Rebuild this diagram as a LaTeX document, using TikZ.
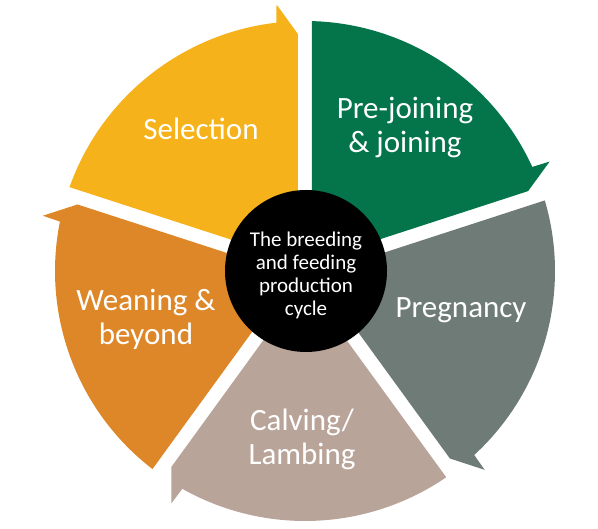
\documentclass[tikz,border=0pt]{standalone}
\usepackage{fontspec}
\setmainfont{Carlito}
\definecolor{segyellow}{RGB}{246,178,26}
\definecolor{seggreen}{RGB}{4,117,74}
\definecolor{seggray}{RGB}{111,123,119}
\definecolor{segtaupe}{RGB}{185,164,153}
\definecolor{segorange}{RGB}{221,135,41}
\begin{document}
\begin{tikzpicture}[x=1pt,y=1pt,
  lab/.style={text=white, font=\fontsize{31}{34.5}\selectfont, align=center, anchor=base, inner sep=0pt},
  hubtext/.style={text=white, font=\fontsize{21}{23}\selectfont, align=center, anchor=base, inner sep=0pt},
  hubcircle/.style={circle, fill=black, minimum size=162pt, inner sep=0pt}]
\useasboundingbox (0,0) rectangle (598,529);
\begin{scope}[shift={(305pt,258pt)}]
\foreach \s/\c in {162/segyellow,90/seggreen,18/seggray,-54/segtaupe,-126/segorange}{
  \fill[\c] ({\s-36}:11.9pt) -- ({\s-1.6}:250pt)
    arc[start angle={\s-1.6}, end angle={\s-72+6.6}, radius=250pt]
    -- ({\s-72+6.1}:268pt) -- ({\s-72+1.7}:237pt) -- cycle;
}
\end{scope}
\node[hubcircle] (hub) at (306,258) {};
\node[hubtext] (hubtext) at (306,213) {The breeding\\and feeding\\production\\cycle};
\node[lab] (selection) at (201,389) {Selection};
\node[lab] (prejoining) at (405,376) {Pre-joining\\\& joining};
\node[lab] (pregnancy) at (461,211) {Pregnancy};
\node[lab] (weaning) at (146,184) {Weaning \&\\beyond};
\node[lab] (calving) at (302,64) {Calving/\\Lambing};
\end{tikzpicture}
\end{document}
